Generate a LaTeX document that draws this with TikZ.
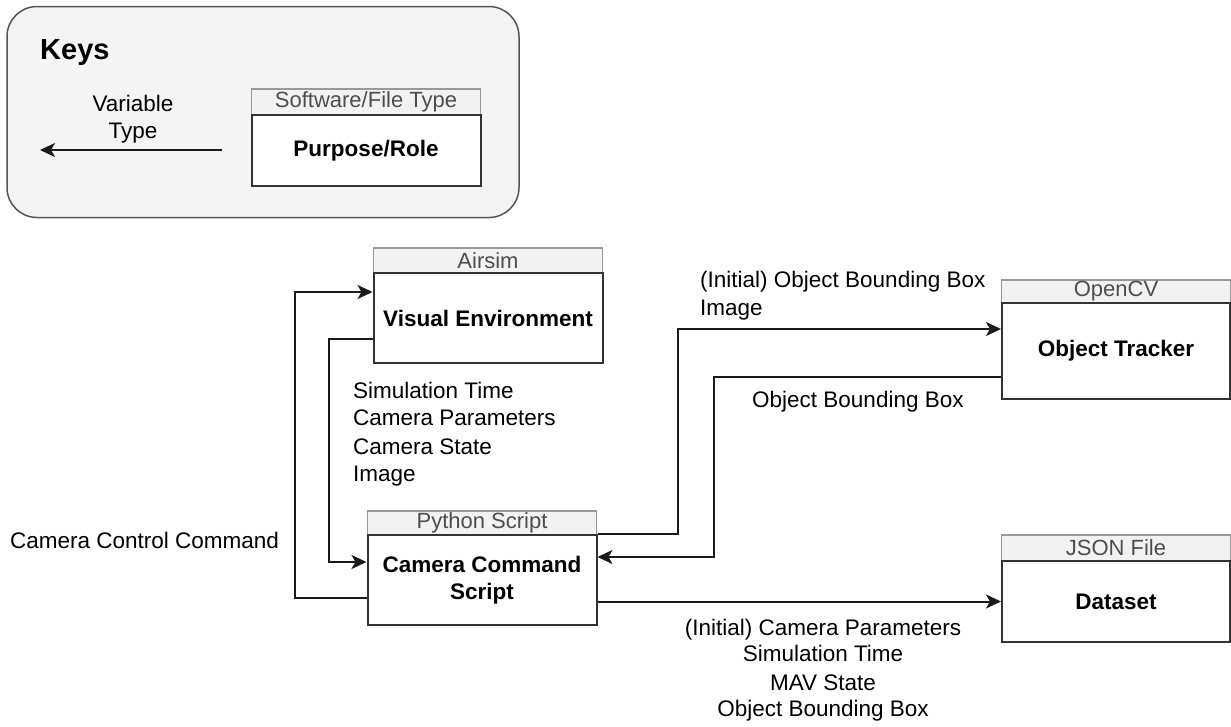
\documentclass[tikz,border=0pt]{standalone}
\usepackage{fontspec}
\setmainfont{Liberation Sans}
\usetikzlibrary{arrows.meta,positioning,calc}
\definecolor{bordc}{HTML}{333333}
\definecolor{hdrc}{HTML}{999999}
\definecolor{hdrfill}{HTML}{F2F2F2}
\definecolor{hdrtext}{HTML}{4D4D4D}
\definecolor{keyfill}{HTML}{F4F4F4}
\definecolor{keyborder}{HTML}{555555}
\definecolor{linec}{HTML}{1A1A1A}
\begin{document}
\begin{tikzpicture}[x=1pt,y=-1pt,
  bodybox/.style={draw=bordc, line width=2pt, fill=white, minimum width=229pt, inner sep=0pt,
    font=\bfseries\fontsize{22.5}{27}\selectfont, align=center},
  hdrbox/.style={draw=hdrc, line width=1.5pt, fill=hdrfill, minimum width=229pt, inner sep=0pt,
    font=\fontsize{22}{26}\selectfont, text=hdrtext},
  lbl/.style={inner sep=0pt, font=\fontsize{22.5}{27.5}\selectfont},
  conn/.style={draw=linec, line width=2pt, -{Stealth[length=15pt,width=14pt,inset=4pt]}}
]
\useasboundingbox (0,0) rectangle (1231,726);

% Keys panel
\node[draw=keyborder, line width=1.5pt, fill=keyfill, rounded corners=30pt,
  minimum width=512pt, minimum height=211pt, inner sep=0pt] (keys) at (263,112) {};
\node[anchor=west, inner sep=0pt, font=\bfseries\fontsize{29}{34}\selectfont] (keystitle) at (40,53) {Keys};
\node[hdrbox, minimum height=26pt] (keyh) at (366,102) {Software/File Type};
\node[bodybox, minimum height=71pt] (keyb) at (366,150.5) {Purpose/Role};
\coordinate (keyarrowend) at (40,150);
\draw[conn] (222,150) -- (keyarrowend);
\node[lbl, align=center] (keylbl) at (133,119) {Variable\\Type};

% Visual Environment
\node[hdrbox, minimum height=25pt] (veh) at (488,260.5) {Airsim};
\node[bodybox, minimum height=90pt] (ve) at (488,318) {Visual Environment};

% Python script
\node[hdrbox, minimum height=24pt] (pyh) at (482,523) {Python Script};
\node[bodybox, minimum height=90pt] (py) at (482,580) {Camera Command\\Script};

% Object tracker
\node[hdrbox, minimum height=23pt] (oth) at (1116,291.5) {OpenCV};
\node[bodybox, minimum height=96pt, minimum width=228pt] (ot) at (1116,351) {Object Tracker};

% Dataset
\node[hdrbox, minimum height=26pt] (dsh) at (1116,548) {JSON File};
\node[bodybox, minimum height=81pt, minimum width=228pt] (ds) at (1116,601.5) {Dataset};

% Connectors
\draw[conn] ([yshift=-18pt]py.west) -- ++(-72,0) |- ([yshift=26pt]ve.west);
\draw[conn] ([yshift=-21pt]ve.west) -- ++(-44,0) |- ([yshift=18pt]py.west);
\draw[conn] (py.north east) -- ++(80,0) |- ([yshift=22pt]ot.west);
\draw[conn] ([yshift=-26pt]ot.west) -- ++(-287,0) |- ([yshift=23pt]py.east);
\draw[conn] ([yshift=-21.5pt]py.east) -- (ds.west);

% Labels
\node[lbl, anchor=west] (cclbl) at (10,540) {Camera Control Command};
\node[lbl, anchor=west, align=left] (velbl) at (353,434)
  {Simulation Time\\Camera Parameters\\[1pt]Camera State\\Image};
\node[lbl, anchor=west, align=left] (otinlbl) at (700,295.5)
  {(Initial) Object Bounding Box\\Image};
\node[lbl, anchor=west] (otoutlbl) at (752,402) {Object Bounding Box};
\node[lbl, align=center, font=\fontsize{22.5}{26.5}\selectfont] (dslbl) at (823,670)
  {(Initial) Camera Parameters\\Simulation Time\\[2pt]MAV State\\Object Bounding Box};
\end{tikzpicture}
\end{document}
